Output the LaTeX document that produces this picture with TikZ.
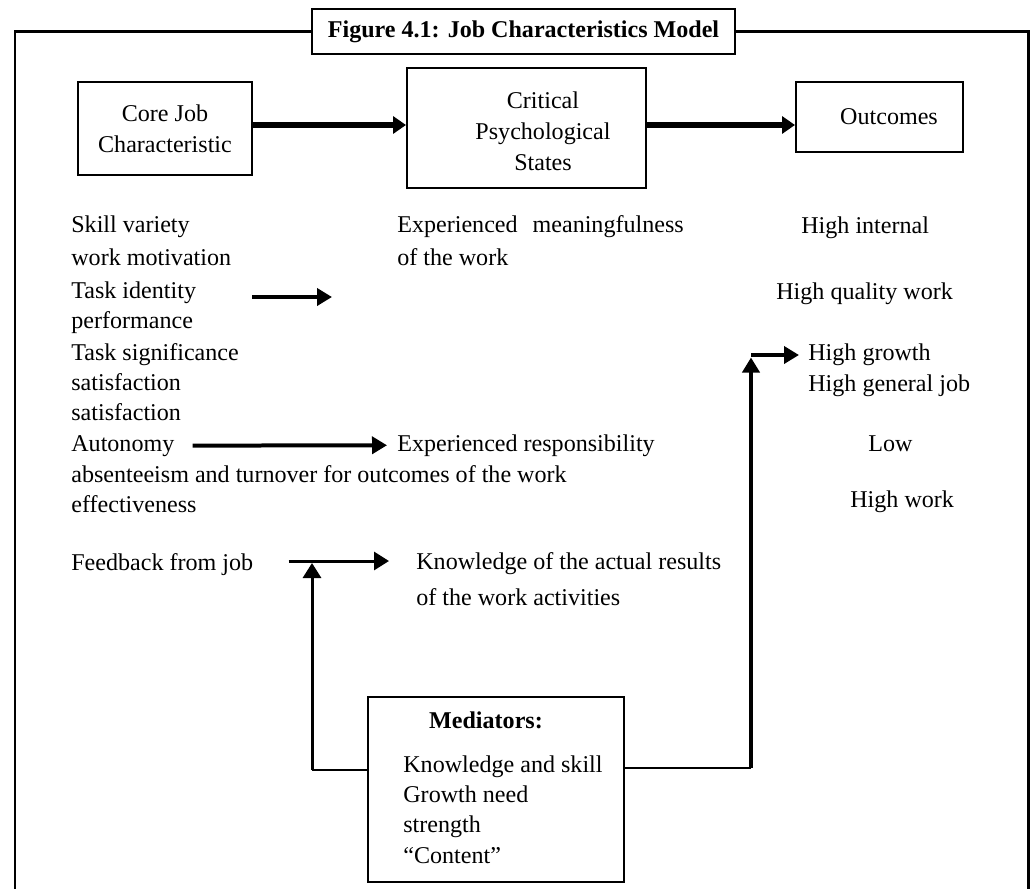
\documentclass[tikz,border=0pt]{standalone}
\usepackage{fontspec}
\setmainfont{Liberation Serif}
\usetikzlibrary{positioning,arrows.meta,calc}

\begin{document}
\begin{tikzpicture}[x=0.02cm,y=-0.02cm,
  every node/.style={font=\fontsize{13.7}{17.6}\selectfont},
  box/.style={draw,line width=0.04cm,inner sep=0pt},
  lbl/.style={anchor=base west,inner sep=0pt},
  frame/.style={line width=0.06cm},
  bigarr/.style={line width=0.13cm,-{Triangle[length=0.26cm,width=0.34cm]}},
  smallarr/.style={line width=0.08cm,-{Triangle[length=0.3cm,width=0.34cm]}},
  thinarr/.style={line width=0.06cm,-{Triangle[length=0.3cm,width=0.36cm]}},
  medline/.style={line width=0.04cm}]

\useasboundingbox (0,0) rectangle (1031,889);
\clip (0,0) rectangle (1031,889);

\node[box,minimum width=8.46cm,minimum height=0.9cm] (title) at (523.5,31.5) {\textbf{Figure 4.1: Job Characteristics Model}};
\coordinate (bl) at (15,895);
\coordinate (br) at (1028,895);
\draw[frame] (title.west) -| (bl);
\draw[frame] (title.east) -| (br);

\node[box,minimum width=3.48cm,minimum height=1.86cm,align=center] (core) at (165,128.5) {Core Job\\Characteristic};
\node[box,minimum width=4.78cm,minimum height=2.4cm] (crit) at (526.5,128) {};
\node[align=center,inner sep=0pt] (crittext) at (543,131) {Critical\\Psychological\\States};
\node[box,minimum width=3.34cm,minimum height=1.4cm] (out) at (879.5,117) {};
\node[inner sep=0pt] (outtext) at (889,117) {Outcomes};
\coordinate (arrlevel) at (0,125);
\draw[bigarr] (core.east |- arrlevel) -- (crit.west |- arrlevel);
\draw[bigarr] (crit.east |- arrlevel) -- (out.west |- arrlevel);

\node[lbl] (sv) at (71,232) {Skill variety};
\node[lbl] (wm) at (71,265) {work motivation};
\node[lbl] (tid) at (71,298) {Task identity};
\node[lbl] (perf) at (71,328) {performance};
\node[lbl] (tsig) at (71,360) {Task significance};
\node[lbl] (sat1) at (71,390) {satisfaction};
\node[lbl] (sat2) at (71,420) {satisfaction};
\node[lbl] (auto) at (71,451) {Autonomy};
\node[lbl] (absent) at (71,482) {absenteeism and turnover for outcomes of the work};
\node[lbl] (eff) at (71,512) {effectiveness};
\node[lbl] (fb) at (71,570) {Feedback from job};

\node[lbl] (expm) at (397,232) {Experienced\hspace{0.3cm}meaningfulness};
\node[lbl] (otw) at (397,265) {of the work};
\node[lbl] (expr) at (397,451) {Experienced responsibility};
\node[lbl] (know) at (416,569) {Knowledge of the actual results};
\node[lbl] (wact) at (416,605) {of the work activities};

\node[lbl] (hi) at (801,233) {High internal};
\node[lbl] (hq) at (776,299) {High quality work};
\node[lbl] (hg) at (808,360) {High growth};
\node[lbl] (hgj) at (808,391) {High general job};
\node[lbl] (low) at (868,451) {Low};
\node[lbl] (hw) at (850,507) {High work};

\coordinate (tiend) at (332,297);
\draw[smallarr] (tid.east |- tiend) ++(56,0) -- (tiend);
\draw[smallarr,shorten <=0.36cm,shorten >=0.2cm] (auto.east) -- (expr.west);

\node[box,minimum width=5.12cm,minimum height=3.7cm] (med) at (496,789.5) {};
\node[anchor=base,inner sep=0pt] (medt) at (486,728) {\textbf{Mediators:}};
\node[lbl,align=left,font=\fontsize{13.7}{17.2}\selectfont] (medl) at (403,863) {Knowledge and skill\\Growth need\\strength\\“Content”};

\coordinate (fbjoin) at (312,561);
\coordinate (fbcorner) at (312,770);
\draw[thinarr,shorten <=0.7cm,shorten >=0.54cm] (fb.east |- fbjoin) -- (know.west |- fbjoin);
\draw[medline] (med.west |- fbcorner) -- (fbcorner);
\draw[thinarr,shorten >=0.04cm] (fbcorner) -- (fbjoin);

\coordinate (grjoin) at (751,355);
\coordinate (grcorner) at (751,768);
\draw[smallarr,shorten >=0.18cm] (grjoin) -- (hg.west |- grjoin);
\draw[medline] (med.east |- grcorner) -- (grcorner);
\draw[smallarr,shorten >=0.05cm] (grcorner) -- (grjoin);

\end{tikzpicture}
\end{document}
